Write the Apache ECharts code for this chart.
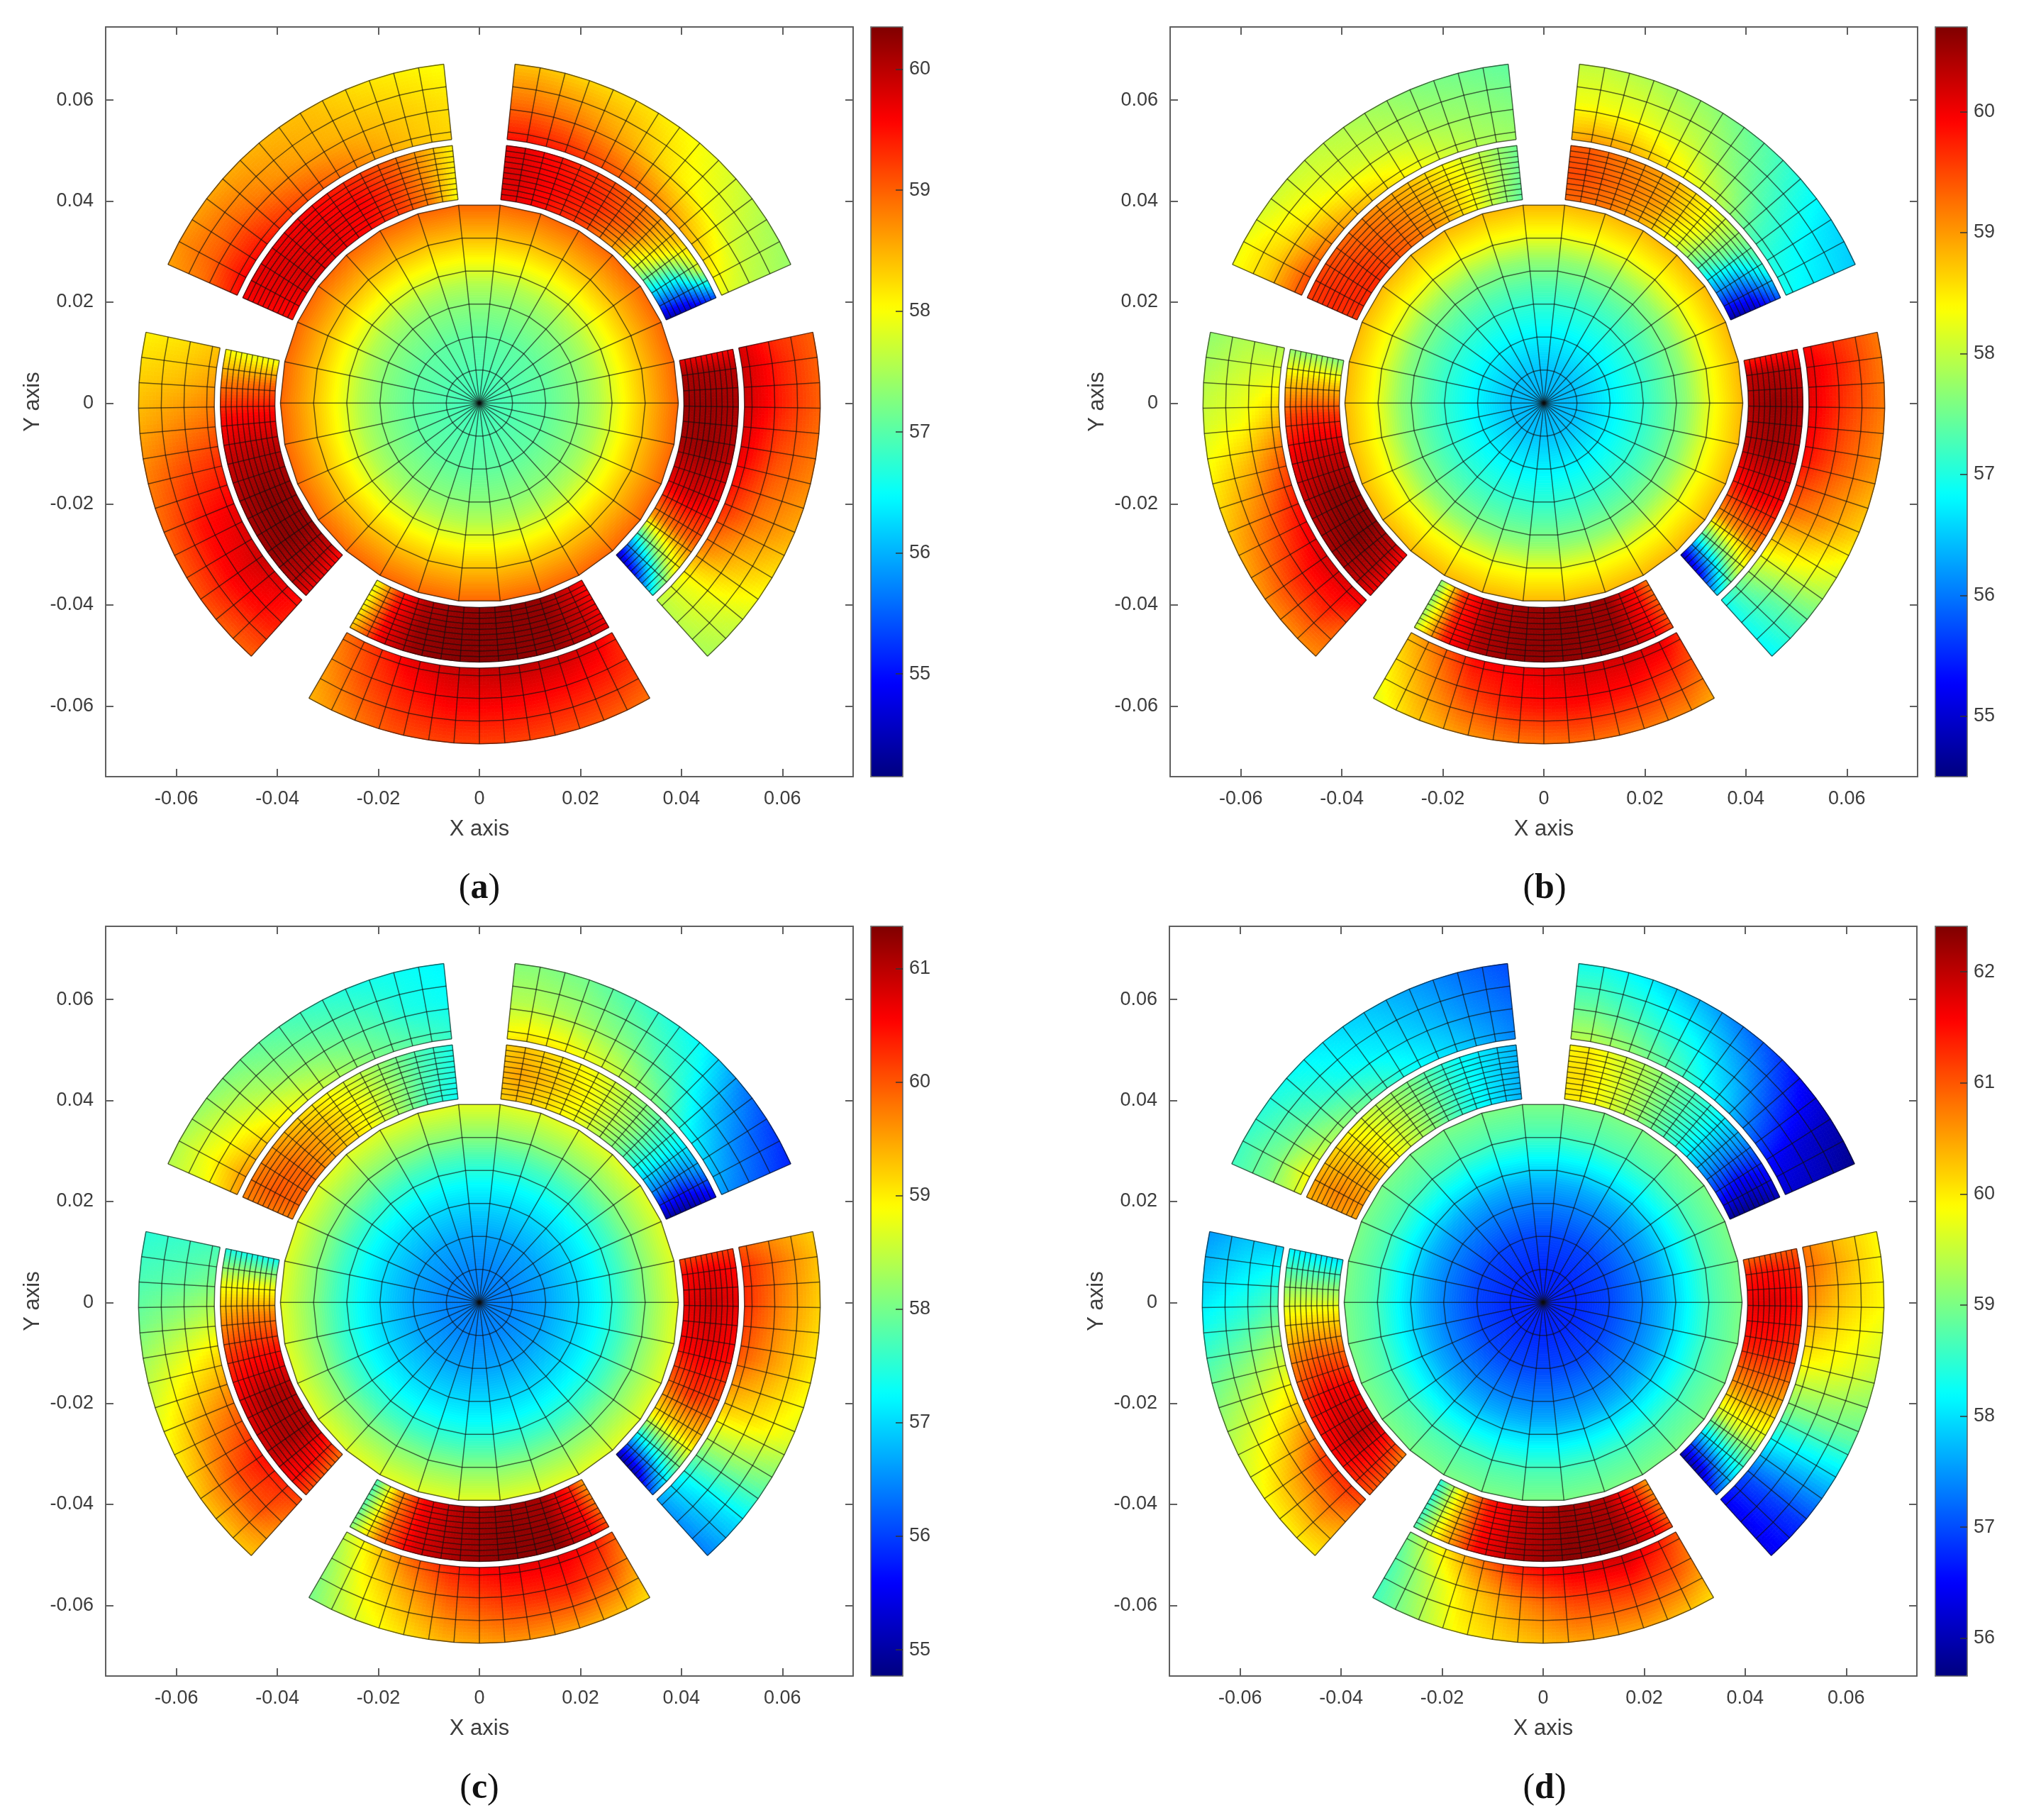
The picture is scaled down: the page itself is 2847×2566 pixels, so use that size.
<!DOCTYPE html>
<html>
<head>
<meta charset="utf-8">
<title>Temperature maps</title>
<style>
  html, body { margin: 0; padding: 0; background: #fff; }
  #main { width: 2847px; height: 2566px; }
</style>
<script src="https://cdn.jsdelivr.net/npm/echarts@6/dist/echarts.min.js"></script>
</head>
<body>
<div id="main"></div>
<script>
// values, in the colourbar's units
// disk: one value per node of diskNodes (axisymmetric)
// pad tables: rows = inner/mid/outer radius, columns = padNodes along the pad (clockwise)
const axisTicks = [-0.06, -0.04, -0.02, 0, 0.02, 0.04, 0.06]
const diskNodes = [0, 0.167, 0.333, 0.5, 0.6, 0.72, 0.86, 1]
const padNodes = [0, 0.07, 0.2, 0.4, 0.6, 0.75, 0.88, 1]
const padStarts = [84, 12, -60, -132, -204]

// (a)
const aTicks = [55, 56, 57, 58, 59, 60]
const aRange = [54.15, 60.35]
const aDisk = [56.85, 56.95, 57.05, 57.3, 57.55, 58.0, 58.5, 58.95]
const aOuter1 = [[59.5, 59.5, 59.4, 59.1, 58.8, 58.5, 58.2, 57.9], [58.9, 58.9, 58.8, 58.5, 58.1, 57.9, 57.7, 57.6], [58.4, 58.4, 58.3, 58.2, 57.95, 57.7, 57.5, 57.4]]
const aInner1 = [[59.7, 59.7, 59.5, 59.2, 58.5, 57.4, 56.0, 54.4], [59.8, 59.8, 59.6, 59.4, 58.9, 58.0, 56.3, 54.6], [59.7, 59.7, 59.5, 59.2, 58.8, 58.4, 57.8, 55.4]]
const aOuter2 = [[59.8, 59.9, 59.9, 59.7, 59.3, 58.8, 58.0, 57.6], [59.3, 59.4, 59.4, 59.1, 58.8, 58.4, 57.9, 57.6], [59.0, 59.0, 59.0, 58.8, 58.5, 58.1, 57.7, 57.5]]
const aInner2 = [[59.7, 60.1, 60.2, 60.1, 59.6, 58.6, 56.4, 54.4], [59.6, 60.1, 60.2, 60.2, 59.8, 58.9, 57.2, 55.0], [59.6, 60.0, 60.1, 60.0, 59.6, 59.0, 58.0, 56.6]]
const aOuter3 = [[59.4, 59.7, 59.9, 60.0, 59.9, 59.7, 59.3, 58.9], [59.3, 59.4, 59.5, 59.6, 59.6, 59.4, 59.1, 58.7], [58.9, 59.0, 59.1, 59.2, 59.2, 59.1, 58.8, 58.5]]
const aInner3 = [[59.5, 59.8, 60.2, 60.3, 60.2, 60.0, 59.3, 57.9], [59.6, 59.9, 60.25, 60.3, 60.3, 60.2, 59.6, 58.0], [59.7, 59.9, 60.2, 60.3, 60.3, 60.2, 59.7, 58.4]]
const aOuter4 = [[59.5, 59.7, 59.9, 59.7, 59.3, 58.9, 58.6, 58.4], [59.4, 59.5, 59.6, 59.5, 59.1, 58.7, 58.4, 58.2], [59.0, 59.0, 59.1, 59.0, 58.8, 58.5, 58.3, 58.1]]
const aInner4 = [[59.5, 59.9, 60.2, 60.2, 60.0, 59.6, 59.0, 57.9], [59.7, 60.0, 60.3, 60.3, 60.0, 59.6, 58.9, 57.9], [59.7, 60.0, 60.2, 60.1, 59.9, 59.5, 58.8, 58.0]]
const aOuter5 = [[59.5, 59.6, 59.5, 59.2, 58.9, 58.6, 58.4, 58.3], [58.9, 59.0, 59.0, 58.7, 58.5, 58.4, 58.3, 58.2], [58.6, 58.7, 58.6, 58.5, 58.4, 58.2, 58.1, 58.0]]
const aInner5 = [[59.5, 59.6, 59.8, 59.7, 59.5, 59.2, 58.8, 58.0], [59.6, 59.7, 59.8, 59.7, 59.6, 59.2, 58.7, 58.1], [59.6, 59.7, 59.7, 59.6, 59.3, 59.0, 58.6, 58.1]]

// (b)
const bTicks = [55, 56, 57, 58, 59, 60]
const bRange = [54.5, 60.7]
const bDisk = [56.35, 56.45, 56.75, 57.1, 57.35, 57.7, 58.35, 58.8]
const bOuter1 = [[58.9, 59.0, 58.9, 58.5, 57.9, 57.3, 57.0, 56.9], [58.3, 58.3, 58.25, 58.0, 57.5, 57.1, 56.8, 56.7], [58.0, 58.0, 57.9, 57.7, 57.3, 56.9, 56.6, 56.5]]
const bInner1 = [[59.3, 59.3, 59.2, 58.8, 58.0, 57.0, 55.9, 54.7], [59.5, 59.5, 59.3, 59.0, 58.3, 57.4, 56.1, 54.9], [59.4, 59.4, 59.2, 58.9, 58.3, 57.6, 57.0, 55.8]]
const bOuter2 = [[59.9, 60.1, 60.1, 59.9, 59.3, 58.5, 57.7, 56.9], [59.6, 59.7, 59.6, 59.4, 59.0, 58.3, 57.4, 56.9], [59.2, 59.2, 59.2, 59.0, 58.6, 58.0, 57.3, 56.8]]
const bInner2 = [[59.7, 60.3, 60.4, 60.3, 59.7, 58.9, 57.0, 54.8], [59.8, 60.4, 60.6, 60.5, 60.0, 59.1, 57.4, 55.2], [59.8, 60.2, 60.4, 60.3, 59.9, 59.2, 58.1, 56.6]]
const bOuter3 = [[59.7, 60.1, 60.2, 60.2, 60.0, 59.9, 59.3, 58.8], [59.4, 59.6, 59.8, 59.9, 59.8, 59.5, 59.0, 58.5], [58.9, 59.1, 59.2, 59.3, 59.2, 59.0, 58.7, 58.2]]
const bInner3 = [[59.2, 59.8, 60.5, 60.6, 60.5, 60.3, 59.6, 57.6], [59.4, 59.9, 60.55, 60.65, 60.6, 60.4, 59.7, 57.7], [59.5, 60.0, 60.5, 60.6, 60.6, 60.4, 59.8, 58.0]]
const bOuter4 = [[60.0, 60.1, 60.2, 59.9, 59.4, 58.8, 58.3, 57.9], [59.4, 59.7, 59.7, 59.3, 58.8, 58.3, 58.1, 57.9], [59.1, 59.1, 59.1, 58.8, 58.4, 58.1, 57.9, 57.7]]
const bInner4 = [[59.9, 60.3, 60.6, 60.6, 60.2, 59.6, 58.7, 57.6], [60.0, 60.4, 60.7, 60.6, 60.2, 59.7, 58.8, 57.7], [60.0, 60.3, 60.5, 60.3, 60.0, 59.5, 58.7, 57.7]]
const bOuter5 = [[59.5, 59.5, 59.2, 58.8, 58.4, 58.1, 57.9, 57.8], [58.7, 58.7, 58.5, 58.2, 58.0, 57.8, 57.7, 57.6], [58.3, 58.3, 58.1, 58.0, 57.8, 57.6, 57.5, 57.4]]
const bInner5 = [[59.6, 59.7, 59.7, 59.4, 59.0, 58.5, 57.9, 57.4], [59.7, 59.7, 59.6, 59.3, 58.9, 58.5, 58.0, 57.5], [59.6, 59.6, 59.4, 59.1, 58.7, 58.3, 57.9, 57.5]]

// (c)
const cTicks = [55, 56, 57, 58, 59, 60, 61]
const cRange = [54.77, 61.37]
const cDisk = [56.4, 56.45, 56.65, 57.0, 57.25, 57.65, 58.2, 58.7]
const cOuter1 = [[59.0, 59.1, 59.0, 58.6, 58.0, 57.3, 56.9, 56.6], [58.4, 58.4, 58.3, 58.0, 57.5, 56.8, 56.4, 56.2], [58.1, 58.1, 58.0, 57.6, 57.2, 56.4, 56.0, 55.8]]
const cInner1 = [[59.2, 59.3, 59.1, 58.7, 58.0, 57.2, 56.3, 55.0], [59.4, 59.5, 59.3, 58.8, 58.1, 57.3, 56.2, 54.95], [59.2, 59.3, 59.1, 58.7, 58.0, 57.3, 56.6, 55.4]]
const cOuter2 = [[60.0, 60.3, 60.3, 60.0, 59.2, 58.2, 57.3, 56.6], [59.6, 59.8, 59.7, 59.5, 59.0, 58.1, 57.1, 56.5], [59.2, 59.3, 59.2, 59.0, 58.7, 57.9, 57.0, 56.4]]
const cInner2 = [[60.1, 60.5, 60.7, 60.5, 59.8, 58.9, 57.0, 55.0], [60.2, 60.7, 60.9, 60.7, 60.2, 59.1, 57.3, 55.1], [60.2, 60.5, 60.7, 60.5, 60.0, 59.2, 57.8, 56.3]]
const cOuter3 = [[60.0, 60.4, 60.7, 60.7, 60.4, 59.9, 59.2, 58.5], [59.6, 60.0, 60.3, 60.2, 59.9, 59.4, 58.9, 58.2], [59.1, 59.3, 59.5, 59.6, 59.4, 59.0, 58.6, 58.0]]
const cInner3 = [[59.5, 60.3, 61.1, 61.2, 61.0, 60.6, 59.5, 57.7], [59.8, 60.5, 61.2, 61.3, 61.1, 60.7, 59.7, 57.8], [60.1, 60.7, 61.3, 61.3, 61.1, 60.8, 59.8, 58.1]]
const cOuter4 = [[60.1, 60.3, 60.5, 59.9, 59.2, 58.5, 58.0, 57.7], [59.7, 60.0, 60.0, 59.5, 58.8, 58.2, 57.8, 57.6], [59.3, 59.3, 59.3, 58.9, 58.4, 57.95, 57.7, 57.5]]
const cInner4 = [[59.8, 60.3, 61.0, 61.0, 60.4, 59.7, 58.7, 57.3], [60.0, 60.5, 61.1, 61.1, 60.4, 59.7, 58.8, 57.35], [60.1, 60.5, 60.9, 60.7, 60.2, 59.5, 58.7, 57.4]]
const cOuter5 = [[59.5, 59.6, 59.3, 58.8, 58.3, 58.0, 57.8, 57.6], [58.8, 58.9, 58.7, 58.2, 57.9, 57.7, 57.4, 57.3], [58.4, 58.4, 58.2, 57.9, 57.6, 57.4, 57.3, 57.2]]
const cInner5 = [[59.7, 59.9, 59.9, 59.4, 58.8, 58.2, 57.6, 57.3], [59.8, 60.0, 59.9, 59.4, 58.8, 58.2, 57.7, 57.4], [59.7, 59.8, 59.6, 59.1, 58.6, 58.1, 57.7, 57.4]]

// (d)
const dTicks = [56, 57, 58, 59, 60, 61, 62]
const dRange = [55.66, 62.41]
const dDisk = [56.7, 56.75, 56.95, 57.35, 57.65, 58.15, 58.7, 59.0]
const dOuter1 = [[59.4, 59.4, 59.2, 58.7, 58.0, 57.2, 56.5, 56.2], [58.8, 58.8, 58.6, 58.2, 57.5, 56.8, 56.2, 56.05], [58.3, 58.3, 58.1, 57.6, 57.0, 56.4, 56.0, 55.75]]
const dInner1 = [[60.0, 60.0, 59.7, 59.0, 58.3, 57.5, 56.7, 55.8], [60.1, 60.1, 59.7, 59.0, 58.3, 57.4, 56.4, 55.75], [59.9, 60.0, 59.6, 59.0, 58.3, 57.5, 56.6, 56.0]]
const dOuter2 = [[60.8, 60.9, 60.7, 60.0, 59.0, 58.0, 57.0, 56.4], [60.3, 60.4, 60.2, 59.8, 58.9, 57.8, 56.9, 56.4], [59.9, 59.9, 59.9, 59.5, 58.8, 57.7, 56.8, 56.4]]
const dInner2 = [[60.9, 61.4, 61.7, 61.4, 60.5, 59.4, 57.6, 55.9], [61.0, 61.5, 61.8, 61.4, 60.6, 59.6, 57.9, 56.0], [61.0, 61.3, 61.5, 61.2, 60.4, 59.5, 58.3, 57.0]]
const dOuter3 = [[61.0, 61.4, 61.9, 61.8, 61.4, 60.7, 59.9, 59.0], [60.7, 61.0, 61.2, 61.1, 60.6, 60.1, 59.4, 58.7], [60.1, 60.3, 60.5, 60.5, 60.2, 59.9, 59.2, 58.6]]
const dInner3 = [[60.5, 61.2, 62.0, 62.2, 61.9, 61.4, 60.1, 58.4], [60.8, 61.5, 62.2, 62.3, 62.0, 61.5, 60.2, 58.5], [61.1, 61.7, 62.3, 62.35, 62.1, 61.6, 60.3, 58.7]]
const dOuter4 = [[61.1, 61.3, 61.3, 60.3, 59.5, 58.9, 58.4, 57.9], [60.5, 60.7, 60.5, 59.8, 59.1, 58.5, 58.1, 57.8], [60.0, 60.0, 59.9, 59.4, 58.8, 58.2, 57.8, 57.5]]
const dInner4 = [[60.7, 61.2, 61.9, 61.6, 60.8, 60.0, 59.0, 58.0], [61.0, 61.4, 62.0, 61.7, 60.9, 60.0, 59.0, 58.0], [61.0, 61.3, 61.6, 61.3, 60.6, 59.9, 59.0, 58.1]]
const dOuter5 = [[59.7, 59.9, 59.4, 58.9, 58.3, 58.0, 57.7, 57.4], [59.0, 59.0, 58.8, 58.3, 58.0, 57.7, 57.4, 57.2], [58.6, 58.6, 58.4, 58.1, 57.8, 57.5, 57.2, 57.0]]
const dInner5 = [[60.5, 60.6, 60.4, 59.7, 59.0, 58.4, 58.0, 57.7], [60.6, 60.7, 60.4, 59.7, 59.0, 58.4, 58.0, 57.7], [60.4, 60.5, 60.2, 59.5, 58.9, 58.3, 58.0, 57.7]]

const jet = ['#000080', '#0000ff', '#0080ff', '#00ffff', '#80ff80', '#ffff00', '#ff8000', '#ff0000', '#800000']

// mesh geometry in axis units / degrees
const diskR = 0.0394
const innerR = [0.0405, 0.0513]
const outerR = [0.0525, 0.0675]
const outerArcs = [0, 0.1, 0.4, 0.7, 1]
const innerArcs = [0, 0.1, 0.2, 0.3, 0.4, 0.5, 0.6, 0.7, 0.8, 0.9, 1]
const diskRings = [1 / 6, 2 / 6, 3 / 6, 4 / 6, 5 / 6, 1]
const padSpan = 60
const padCells = 14
const diskSpokes = 30

const panels = [
  { id: 'a', ticks: aTicks, range: aRange, disk: aDisk, outer: [aOuter1, aOuter2, aOuter3, aOuter4, aOuter5], inner: [aInner1, aInner2, aInner3, aInner4, aInner5], left: 149, top: 38, barLeft: 1228, capX: 676, capY: 1228 },
  { id: 'b', ticks: bTicks, range: bRange, disk: bDisk, outer: [bOuter1, bOuter2, bOuter3, bOuter4, bOuter5], inner: [bInner1, bInner2, bInner3, bInner4, bInner5], left: 1650, top: 38, barLeft: 2729, capX: 2178, capY: 1228 },
  { id: 'c', ticks: cTicks, range: cRange, disk: cDisk, outer: [cOuter1, cOuter2, cOuter3, cOuter4, cOuter5], inner: [cInner1, cInner2, cInner3, cInner4, cInner5], left: 149, top: 1306, barLeft: 1228, capX: 676, capY: 2497 },
  { id: 'd', ticks: dTicks, range: dRange, disk: dDisk, outer: [dOuter1, dOuter2, dOuter3, dOuter4, dOuter5], inner: [dInner1, dInner2, dInner3, dInner4, dInner5], left: 1649, top: 1306, barLeft: 2729, capX: 2178, capY: 2497 },
]

const AXIS_W = 1054
const AXIS_H = 1057
const BAR_W = 45
const AXIS_COLOR = '#5f5f5f'
const TEXT_COLOR = '#3c3c3c'
const SANS = '"Liberation Sans", Arial, sans-serif'
const SERIF = '"Liberation Serif", "Times New Roman", serif'

const polar = (r, deg) => {
  const a = (deg * Math.PI) / 180
  return [r * Math.cos(a), r * Math.sin(a)]
}

// shading between the read nodes, like shading interp in the original plot
const sample1d = (nodes, vals, t) => {
  let i = 0
  while (i < nodes.length - 2 && t > nodes[i + 1]) i++
  const f = (t - nodes[i]) / (nodes[i + 1] - nodes[i])
  return vals[i] + (vals[i + 1] - vals[i]) * f
}

const shadePad = (table, fr, s) => {
  const column = table.map(row => sample1d(padNodes, row, s))
  return sample1d([0, 0.5, 1], column, fr)
}

const pushQuad = (out, v, p0, p1, p2, p3) => {
  out.push([v, p0[0], p0[1], p1[0], p1[1], p2[0], p2[1], p3[0], p3[1]])
}

const padCellsFor = (table, start, radii, nAng, nRad) => {
  const out = []
  for (let i = 0; i < nAng; i++) {
    const s0 = i / nAng
    const s1 = (i + 1) / nAng
    for (let j = 0; j < nRad; j++) {
      const f0 = j / nRad
      const f1 = (j + 1) / nRad
      const r0 = radii[0] + (radii[1] - radii[0]) * f0
      const r1 = radii[0] + (radii[1] - radii[0]) * f1
      const a0 = start - s0 * padSpan
      const a1 = start - s1 * padSpan
      const v = shadePad(table, (f0 + f1) / 2, (s0 + s1) / 2)
      pushQuad(out, v, polar(r0, a0), polar(r1, a0), polar(r1, a1), polar(r0, a1))
    }
  }
  return out
}

const diskCellsFor = vals => {
  const out = []
  const nRad = 84
  for (let k = 0; k < diskSpokes; k++) {
    const a0 = (k * 360) / diskSpokes
    const a1 = ((k + 1) * 360) / diskSpokes
    for (let j = 0; j < nRad; j++) {
      const r0 = (diskR * j) / nRad
      const r1 = (diskR * (j + 1)) / nRad
      const v = sample1d(diskNodes, vals, (j + 0.5) / nRad)
      pushQuad(out, v, polar(r0, a0), polar(r1, a0), polar(r1, a1), polar(r0, a1))
    }
  }
  return out
}

const buildCells = p => {
  let cells = diskCellsFor(p.disk)
  padStarts.forEach((start, i) => {
    cells = cells.concat(padCellsFor(p.outer[i], start, outerR, 84, 22))
    cells = cells.concat(padCellsFor(p.inner[i], start, innerR, 84, 16))
  })
  return cells
}

const padMesh = (start, radii, arcs, lines) => {
  arcs.forEach(f => {
    const r = radii[0] + (radii[1] - radii[0]) * f
    const pts = []
    for (let i = 0; i <= padCells; i++) pts.push(polar(r, start - (i * padSpan) / padCells))
    lines.push(pts)
  })
  for (let i = 0; i <= padCells; i++) {
    const a = start - (i * padSpan) / padCells
    lines.push([polar(radii[0], a), polar(radii[1], a)])
  }
}

const meshLines = []
for (let k = 0; k < diskSpokes; k++) {
  meshLines.push([[0, 0], polar(diskR, (k * 360) / diskSpokes)])
}
diskRings.forEach(f => {
  const pts = []
  for (let k = 0; k <= diskSpokes; k++) pts.push(polar(diskR * f, (k * 360) / diskSpokes))
  meshLines.push(pts)
})
padStarts.forEach(start => {
  padMesh(start, outerR, outerArcs, meshLines)
  padMesh(start, innerR, innerArcs, meshLines)
})

const renderCell = (params, api) => {
  const color = api.visual('color')
  const points = [
    api.coord([api.value(1), api.value(2)]),
    api.coord([api.value(3), api.value(4)]),
    api.coord([api.value(5), api.value(6)]),
    api.coord([api.value(7), api.value(8)]),
  ]
  return { type: 'polygon', shape: { points }, style: { fill: color, stroke: color, lineWidth: 0.8 } }
}

const renderMesh = (params, api) => {
  const points = meshLines[params.dataIndex].map(pt => api.coord(pt))
  return {
    type: 'polyline',
    shape: { points },
    style: { fill: null, stroke: 'rgba(15, 15, 15, 0.62)', lineWidth: 1.5 },
  }
}

const grid = []
const xAxis = []
const yAxis = []
const series = []
const visualMap = []
const title = []

const mainAxis = (gridIndex, position, withLabels, name) => {
  const vertical = position === 'left' || position === 'right'
  return {
    type: 'value',
    gridIndex,
    position,
    min: vertical ? -0.074 : -0.074,
    max: vertical ? 0.0745 : 0.074,
    name: withLabels ? name : '',
    nameLocation: 'middle',
    nameGap: position === 'bottom' ? 59 : 87,
    nameTextStyle: { fontFamily: SANS, fontSize: 31, color: TEXT_COLOR },
    axisLine: { show: true, onZero: false, lineStyle: { color: AXIS_COLOR, width: 2 } },
    axisTick: { show: true, inside: true, length: 11, customValues: axisTicks, lineStyle: { color: AXIS_COLOR, width: 2 } },
    axisLabel: {
      show: withLabels,
      customValues: axisTicks,
      formatter: v => String(v),
      margin: vertical ? 17 : 18,
      fontFamily: SANS,
      fontSize: 27,
      color: TEXT_COLOR,
    },
    splitLine: { show: false },
  }
}

panels.forEach((p, i) => {
  grid.push({ left: p.left, top: p.top, width: AXIS_W, height: AXIS_H })
  xAxis.push(mainAxis(i, 'bottom', true, 'X axis'), mainAxis(i, 'top', false))
  yAxis.push(mainAxis(i, 'left', true, 'Y axis'), mainAxis(i, 'right', false))

  series.push({
    type: 'custom',
    name: 'temperature ' + p.id,
    xAxisIndex: i * 2,
    yAxisIndex: i * 2,
    renderItem: renderCell,
    data: buildCells(p),
    encode: { x: 1, y: 2 },
    silent: true,
    animation: false,
    progressive: 0,
    clip: false,
  })
  series.push({
    type: 'custom',
    name: 'mesh ' + p.id,
    xAxisIndex: i * 2,
    yAxisIndex: i * 2,
    renderItem: renderMesh,
    data: meshLines.map(l => l[0]),
    encode: { x: 0, y: 1 },
    silent: true,
    animation: false,
    progressive: 0,
    clip: false,
    z: 3,
  })

  visualMap.push({
    type: 'continuous',
    show: true,
    seriesIndex: i * 2,
    dimension: 0,
    min: p.range[0],
    max: p.range[1],
    left: p.barLeft,
    top: p.top,
    itemWidth: BAR_W,
    itemHeight: AXIS_H,
    padding: 0,
    calculable: false,
    hoverLink: false,
    inRange: { color: jet },
  })

  title.push({
    text: '{p|(}{b|' + p.id + '}{p|)}',
    left: p.capX,
    top: p.capY,
    textAlign: 'center',
    padding: 0,
    textStyle: {
      fontWeight: 'normal',
      rich: {
        p: { fontFamily: SERIF, fontSize: 50, fontWeight: 'normal', color: '#111' },
        b: { fontFamily: SERIF, fontSize: 50, fontWeight: 'bold', color: '#111' },
      },
    },
  })
})

// colourbar frames, drawn over the visualMap bars
panels.forEach((p, i) => {
  const g = grid.length
  grid.push({ left: p.barLeft, top: p.top, width: BAR_W, height: AXIS_H })
  const frameX = position => ({
    type: 'value',
    gridIndex: g,
    position,
    min: 0,
    max: 1,
    z: 10,
    axisLine: { show: true, onZero: false, lineStyle: { color: AXIS_COLOR, width: 1.5 } },
    axisTick: { show: false },
    axisLabel: { show: false },
    splitLine: { show: false },
  })
  const frameY = (position, withTicks) => ({
    type: 'value',
    gridIndex: g,
    position,
    min: p.range[0],
    max: p.range[1],
    z: 10,
    axisLine: { show: true, onZero: false, lineStyle: { color: AXIS_COLOR, width: 1.5 } },
    axisTick: { show: withTicks, inside: true, length: 10, customValues: p.ticks, lineStyle: { color: '#333', width: 1.5 } },
    axisLabel: {
      show: withTicks,
      customValues: p.ticks,
      margin: 9,
      fontFamily: SANS,
      fontSize: 27,
      color: TEXT_COLOR,
    },
    splitLine: { show: false },
  })
  xAxis.push(frameX('bottom'), frameX('top'))
  yAxis.push(frameY('left', false), frameY('right', true))
})

const chart = echarts.init(document.getElementById('main'), null, { renderer: 'canvas' })
chart.setOption({
  backgroundColor: '#fff',
  animation: false,
  title,
  grid,
  xAxis,
  yAxis,
  visualMap,
  series,
})

window.addEventListener('resize', () => chart.resize())
</script>
</body>
</html>
